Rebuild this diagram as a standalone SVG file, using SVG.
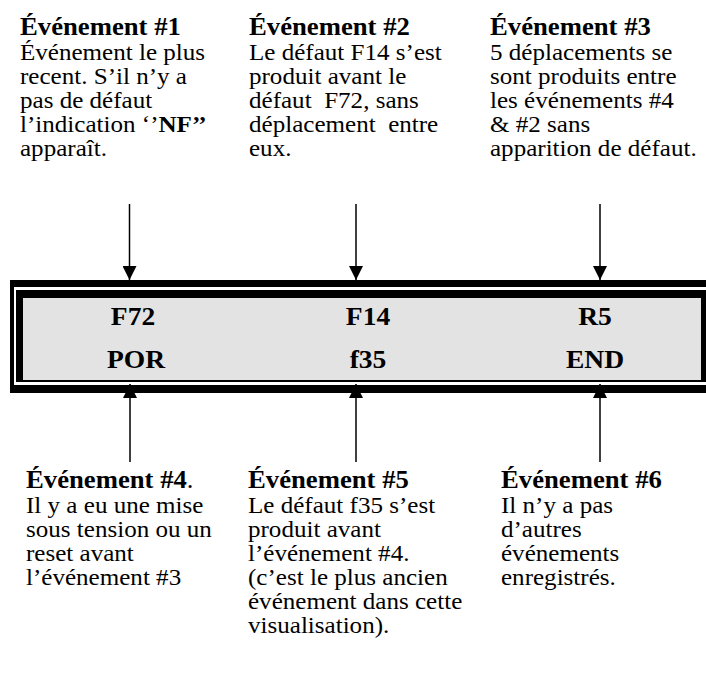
<svg xmlns="http://www.w3.org/2000/svg" width="706" height="673" viewBox="0 0 706 673">
<style>
text{font-family:"Liberation Serif","Times New Roman",serif;fill:#000}
.h{font-size:24.5px;font-weight:bold}
.b{font-size:23px}
.bx{font-size:25.5px;font-weight:bold;text-anchor:middle}
.c{stroke:#000;stroke-width:1.5;fill:none}
</style>
<defs>
<marker id="ah" markerUnits="userSpaceOnUse" markerWidth="14" markerHeight="14" viewBox="0 0 14 14" refX="14" refY="7" orient="auto">
<path d="M0,0 L14,7 L0,14 Z" fill="#000"/>
</marker>
</defs>
<g id="display">
<rect x="10" y="280" width="700" height="113" fill="#000"/>
<rect x="14" y="287" width="700" height="98" fill="#fff"/>
<rect x="16" y="290" width="700" height="92" fill="#000"/>
<rect x="23" y="298" width="678" height="82" fill="#e3e3e3"/>
<text class="bx" transform="translate(133,325) scale(1.08,1)">F72</text>
<text class="bx" transform="translate(136,368) scale(1.08,1)">POR</text>
<text class="bx" transform="translate(368,325) scale(1.08,1)">F14</text>
<text class="bx" transform="translate(368,368) scale(1.08,1)">f35</text>
<text class="bx" transform="translate(595,325) scale(1.08,1)">R5</text>
<text class="bx" transform="translate(595,368) scale(1.08,1)">END</text>
</g>
<g id="connectors">
<line class="c" x1="129.5" y1="204" x2="129.5" y2="280" marker-end="url(#ah)"/>
<line class="c" x1="356" y1="204" x2="356" y2="280" marker-end="url(#ah)"/>
<line class="c" x1="600" y1="204" x2="600" y2="280" marker-end="url(#ah)"/>
<line class="c" x1="130" y1="462" x2="130" y2="384" marker-end="url(#ah)"/>
<line class="c" x1="356" y1="462" x2="356" y2="384" marker-end="url(#ah)"/>
<line class="c" x1="600" y1="462" x2="600" y2="384" marker-end="url(#ah)"/>
</g>
<g id="event1" transform="translate(20,0) scale(1.09,1)">
<text class="h" y="35.5">Événement #1</text>
<text class="b" y="60">Événement le plus</text>
<text class="b" y="84">recent. S’il n’y a</text>
<text class="b" y="108">pas de défaut</text>
<text class="b" y="132">l’indication ‘’<tspan font-weight="bold">NF’’</tspan></text>
<text class="b" y="156">apparaît.</text>
</g>
<g id="event2" transform="translate(249,0) scale(1.09,1)">
<text class="h" y="35.5">Événement #2</text>
<text class="b" y="60">Le défaut F14 s’est</text>
<text class="b" y="84">produit avant le</text>
<text class="b" y="108">défaut &#160;F72, sans</text>
<text class="b" y="132">déplacement &#160;entre</text>
<text class="b" y="156">eux.</text>
</g>
<g id="event3" transform="translate(490,0) scale(1.09,1)">
<text class="h" y="35.5">Événement #3</text>
<text class="b" y="60">5 déplacements se</text>
<text class="b" y="84">sont produits entre</text>
<text class="b" y="108">les événements #4</text>
<text class="b" y="132">&amp; #2 sans</text>
<text class="b" y="156">apparition de défaut.</text>
</g>
<g id="event4" transform="translate(26,0) scale(1.09,1)">
<text class="h" y="488">Événement #4<tspan font-weight="normal">.</tspan></text>
<text class="b" y="513">Il y a eu une mise</text>
<text class="b" y="537">sous tension ou un</text>
<text class="b" y="561">reset avant</text>
<text class="b" y="585">l’événement #3</text>
</g>
<g id="event5" transform="translate(248,0) scale(1.09,1)">
<text class="h" y="488">Événement #5</text>
<text class="b" y="513">Le défaut f35 s’est</text>
<text class="b" y="537">produit avant</text>
<text class="b" y="561">l’événement #4.</text>
<text class="b" y="585">(c’est le plus ancien</text>
<text class="b" y="609">événement dans cette</text>
<text class="b" y="633">visualisation).</text>
</g>
<g id="event6" transform="translate(501,0) scale(1.09,1)">
<text class="h" y="488">Événement #6</text>
<text class="b" y="513">Il n’y a pas</text>
<text class="b" y="537">d’autres</text>
<text class="b" y="561">événements</text>
<text class="b" y="585">enregistrés.</text>
</g>
</svg>
